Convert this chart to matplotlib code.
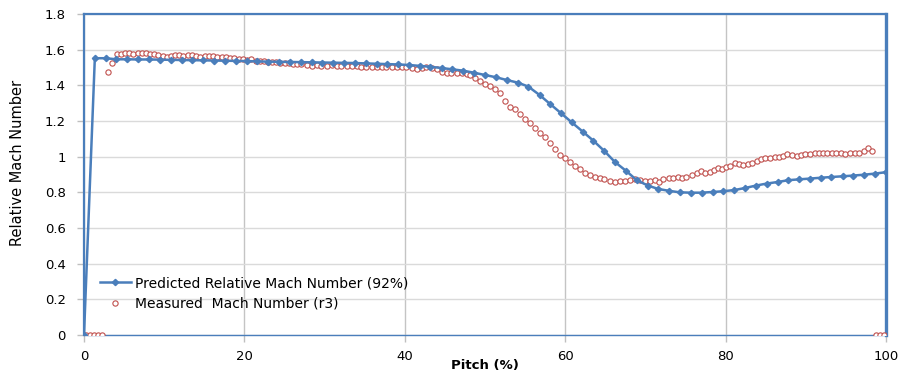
import matplotlib
matplotlib.use("Agg")
import matplotlib.pyplot as plt
from matplotlib import font_manager

# ---------------- data ----------------
pred_pitch = [0.0, 1.35, 2.70, 4.05, 5.41, 6.76, 8.11, 9.46, 10.8, 12.2, 13.5, 14.9, 16.2,
              17.6, 18.9, 20.3, 21.6, 23.0, 24.3, 25.7, 27.0, 28.4, 29.7, 31.1, 32.4, 33.8,
              35.1, 36.5, 37.8, 39.2, 40.5, 41.9, 43.2, 44.6, 45.9, 47.3, 48.6, 50.0, 51.4,
              52.7, 54.1, 55.4, 56.8, 58.1, 59.5, 60.8, 62.2, 63.5, 64.9, 66.2, 67.6, 68.9,
              70.3, 71.6, 73.0, 74.3, 75.7, 77.0, 78.4, 79.7, 81.1, 82.4, 83.8, 85.1, 86.5,
              87.8, 89.2, 90.5, 91.9, 93.2, 94.6, 95.9, 97.3, 98.6, 100.0]
pred_mach = [0.0, 1.552, 1.552, 1.546, 1.546, 1.545, 1.545, 1.544, 1.543, 1.542, 1.541, 1.540,
             1.539, 1.538, 1.537, 1.536, 1.534, 1.533, 1.532, 1.531, 1.530, 1.529, 1.528,
             1.527, 1.526, 1.525, 1.523, 1.521, 1.519, 1.517, 1.514, 1.509, 1.504, 1.497,
             1.490, 1.482, 1.471, 1.458, 1.445, 1.430, 1.415, 1.393, 1.346, 1.296, 1.243,
             1.193, 1.140, 1.090, 1.031, 0.970, 0.920, 0.869, 0.838, 0.819, 0.808, 0.800,
             0.798, 0.798, 0.802, 0.806, 0.813, 0.824, 0.838, 0.849, 0.858, 0.868, 0.873,
             0.877, 0.882, 0.886, 0.890, 0.894, 0.899, 0.905, 0.913]

meas_pitch = [0.3, 0.8, 1.3, 1.8, 2.3, 3.0, 3.5,
              4.07, 4.57, 5.11, 5.65, 6.15, 6.69, 7.19, 7.73, 8.23, 8.77, 9.27, 9.81, 10.3,
              10.9, 11.4, 11.9, 12.4, 13.0, 13.5, 14.0, 14.5, 15.1, 15.6, 16.1, 16.6, 17.2,
              17.7, 18.2, 18.7, 19.3, 19.8, 20.3, 20.8, 21.4, 21.9, 22.4, 22.9, 23.5, 24.0,
              24.5, 25.0, 25.6, 26.1,
              26.5, 27.1, 27.8, 28.4, 29.0, 29.6, 30.3, 30.9, 31.5, 32.1, 32.8, 33.4, 34.0,
              34.6, 35.2, 35.9, 36.5, 37.1, 37.7, 38.4, 39.0, 39.6, 40.2, 40.9, 41.5, 42.1,
              42.7, 43.4, 44.0, 44.6, 45.2, 45.8, 46.5, 47.1, 47.7,
              48.1, 48.8, 49.4, 50.0, 50.6, 51.2, 51.9, 52.5, 53.1, 53.7, 54.4, 55.0, 55.6,
              56.2, 56.9, 57.5, 58.1, 58.7, 59.4, 60.0, 60.6, 61.2, 61.8, 62.5, 63.1, 63.7,
              64.3, 64.9, 65.6, 66.2, 66.8, 67.5, 68.1, 68.7, 69.3,
              70.0, 70.6, 71.2, 71.7, 72.2, 72.9, 73.5, 74.1, 74.6, 75.1, 75.8, 76.4, 76.9,
              77.4, 78.0, 78.5, 79.0, 79.5, 80.0, 80.6, 81.2, 81.7, 82.2, 82.8, 83.3, 83.9,
              84.4, 84.9, 85.5, 86.1, 86.6, 87.2, 87.7, 88.3, 88.9, 89.4, 89.9, 90.5, 91.1,
              91.6, 92.2, 92.7, 93.3, 93.8, 94.4, 94.9, 95.5, 96.1, 96.6, 97.2, 97.7, 98.3,
              98.8, 99.3, 99.8]
meas_mach = [0.0, 0.0, 0.0, 0.0, 0.0, 1.475, 1.527,
             1.576, 1.576, 1.580, 1.583, 1.576, 1.580, 1.580, 1.583, 1.576, 1.576, 1.570,
             1.565, 1.561, 1.565, 1.570, 1.570, 1.565, 1.570, 1.570, 1.565, 1.561, 1.565,
             1.565, 1.565, 1.557, 1.557, 1.557, 1.552, 1.552, 1.548, 1.546, 1.542, 1.548,
             1.538, 1.535, 1.538, 1.533, 1.529, 1.529, 1.527, 1.524, 1.524, 1.520,
             1.520, 1.520, 1.514, 1.511, 1.514, 1.511, 1.509, 1.514, 1.511, 1.509, 1.511,
             1.509, 1.509, 1.505, 1.501, 1.505, 1.501, 1.501, 1.505, 1.505, 1.505, 1.501,
             1.501, 1.495, 1.490, 1.495, 1.501, 1.495, 1.490, 1.477, 1.471, 1.467, 1.471,
             1.467, 1.464,
             1.458, 1.440, 1.426, 1.408, 1.396, 1.378, 1.359, 1.312, 1.277, 1.266, 1.239,
             1.211, 1.187, 1.159, 1.131, 1.109, 1.079, 1.042, 1.010, 0.991, 0.972, 0.948,
             0.929, 0.910, 0.897, 0.884, 0.879, 0.873, 0.865, 0.860, 0.864, 0.865, 0.869,
             0.873, 0.869,
             0.866, 0.866, 0.869, 0.860, 0.873, 0.882, 0.882, 0.884, 0.882, 0.888, 0.897,
             0.910, 0.921, 0.910, 0.916, 0.925, 0.935, 0.929, 0.940, 0.948, 0.963, 0.959,
             0.953, 0.959, 0.966, 0.976, 0.985, 0.991, 0.994, 0.997, 1.000, 1.006, 1.013,
             1.010, 1.006, 1.010, 1.015, 1.013, 1.019, 1.019, 1.019, 1.019, 1.019, 1.019,
             1.019, 1.015, 1.019, 1.019, 1.023, 1.034, 1.047, 1.034,
             0.0, 0.0, 0.0]

x_ticks = [0, 20, 40, 60, 80, 100]
y_ticks = [0, 0.2, 0.4, 0.6, 0.8, 1.0, 1.2, 1.4, 1.6, 1.8]
y_tick_labels = ["0", "0.2", "0.4", "0.6", "0.8", "1", "1.2", "1.4", "1.6", "1.8"]

pred_label = "Predicted Relative Mach Number (92%)"
meas_label = "Measured  Mach Number (r3)"

# ---------------- styling ----------------
BLUE = "#4a7ebb"
RED = "#c0504d"

names = {f.name for f in font_manager.fontManager.ttflist}
narrow = "Liberation Sans Narrow" if "Liberation Sans Narrow" in names else "DejaVu Sans"

fig = plt.figure(figsize=(9.05, 3.83), dpi=100)
ax = fig.add_axes([84 / 905, 48 / 383, 802 / 905, 321 / 383])

ax.plot(pred_pitch, pred_mach, color=BLUE, lw=1.8, marker="D", ms=3.2,
        mfc=BLUE, mec=BLUE, label=pred_label, zorder=4)
ax.plot(meas_pitch, meas_mach, ls="none", marker="o", ms=3.8, mfc="white",
        mec=RED, mew=0.8, label=meas_label, zorder=3)

ax.set_xlim(0, 100)
ax.set_ylim(0, 1.8)
ax.set_xticks(x_ticks)
ax.set_yticks(y_ticks)
ax.set_yticklabels(y_tick_labels)

ax.grid(True, axis="x", color="#c4c4c4", lw=1.0)
ax.grid(True, axis="y", color="#dadada", lw=1.0)
ax.set_axisbelow(True)

for side in ["left", "top", "bottom"]:
    ax.spines[side].set_color(BLUE)
    ax.spines[side].set_linewidth(1.6)
ax.spines["bottom"].set_linewidth(1.0)
ax.spines["right"].set_color(BLUE)
ax.spines["right"].set_linewidth(2.4)

ax.tick_params(axis="both", colors="#bfbfbf", labelcolor="black", labelsize=9.5,
               length=5, width=1)
ax.tick_params(axis="x", pad=6)
ax.tick_params(axis="y", pad=8)

ax.set_ylabel("Relative Mach Number", fontsize=10.5, family=narrow)
ax.yaxis.set_label_coords(-0.074, 0.535)
ax.set_xlabel("Pitch (%)", fontsize=9.5, fontweight="bold", labelpad=-3)

leg = ax.legend(loc="center left", bbox_to_anchor=(0.008, 0.13), frameon=False,
                fontsize=10, handlelength=2.2, handletextpad=0.3, labelspacing=0.45,
                borderaxespad=0.3)

fig.savefig("out.png", dpi=100)
